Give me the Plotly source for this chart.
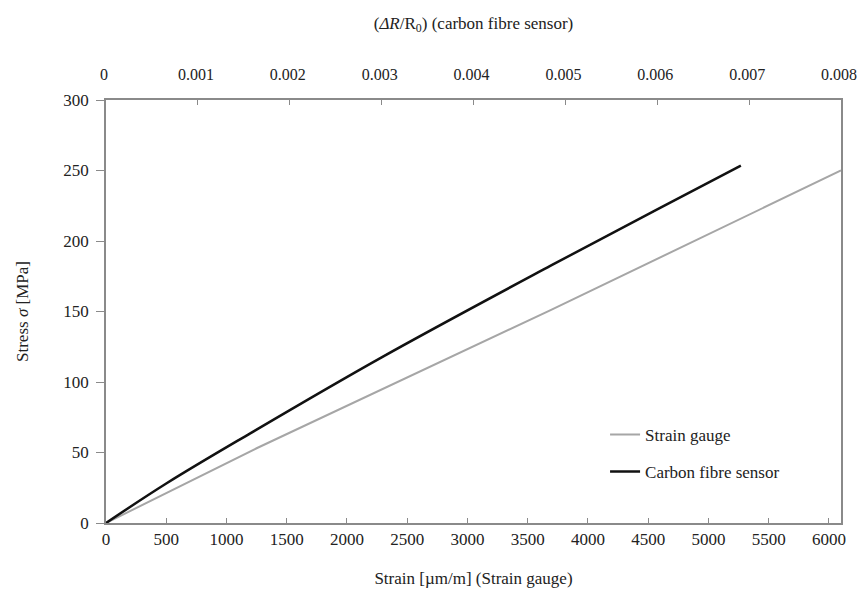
import plotly.graph_objects as go

# Strain gauge: strain [µm/m] vs stress [MPa]
sg_strain = [0, 1250, 3690, 6100]
sg_stress = [0, 53, 151, 250]

# Carbon fibre sensor: ΔR/R0 vs stress [MPa]
cf_dr = [0, 0.00066, 0.00157, 0.00300, 0.00484, 0.00600, 0.00691]
cf_stress = [0, 28.2, 63.6, 117.5, 182.5, 222.5, 253.4]

bottom_ticks = [0, 500, 1000, 1500, 2000, 2500, 3000, 3500, 4000, 4500, 5000, 5500, 6000]
top_ticks = [0, 0.001, 0.002, 0.003, 0.004, 0.005, 0.006, 0.007, 0.008]
top_labels = ["0", "0.001", "0.002", "0.003", "0.004", "0.005", "0.006", "0.007", "0.008"]
y_ticks = [0, 50, 100, 150, 200, 250, 300]

FONT = "Liberation Serif"
AX = "#8a8a8a"
FS = 17

fig = go.Figure()
fig.add_trace(go.Scatter(x=sg_strain, y=sg_stress, mode="lines", name="Strain gauge",
                         line=dict(color="#a6a6a6", width=2), legendgroup="a",
                         xaxis="x", yaxis="y"))
fig.add_trace(go.Scatter(x=cf_dr, y=cf_stress, mode="lines", name="Carbon fibre sensor",
                         line=dict(color="#111111", width=2.5, shape="spline"), legendgroup="b",
                         xaxis="x2", yaxis="y"))

# the page body adds an 8px margin, so the figure is sized to fit the window
fig.update_layout(
    width=857, height=580,
    margin=dict(l=98, r=24, t=92, b=65),
    paper_bgcolor="white", plot_bgcolor="white",
    font=dict(family=FONT, size=FS, color="#222"),
    showlegend=True,
    legend=dict(x=0.679, y=0.251, xanchor="left", yanchor="top",
                bgcolor="rgba(0,0,0,0)", itemwidth=30, tracegroupgap=12,
                traceorder="grouped", font=dict(family=FONT, size=FS, color="#222")),
    xaxis=dict(range=[0, 6100], tickvals=bottom_ticks, ticks="inside", ticklen=5,
               tickcolor=AX, showline=True, linecolor=AX, linewidth=1.5,
               showgrid=False, zeroline=False, ticklabelstandoff=0, automargin=False,
               title=dict(text="Strain [µm/m] (Strain gauge)", standoff=28,
                          font=dict(family=FONT, size=FS))),
    xaxis2=dict(range=[0, 0.008], tickvals=top_ticks, ticktext=top_labels,
                overlaying="x", side="top", anchor="y", ticks="inside", ticklen=5,
                tickcolor=AX, showline=True, linecolor=AX, linewidth=1.5,
                showgrid=False, zeroline=False, ticklabelstandoff=12, automargin=False,
                ticklabeloverflow="allow", ticklabelshift=-2,
                tickfont=dict(family=FONT, size=16),
                title=dict(text="(<i>ΔR</i>/R<sub>0</sub>) (carbon fibre sensor)", standoff=32,
                           font=dict(family=FONT, size=FS))),
    yaxis=dict(range=[0, 300], tickvals=y_ticks, ticks="outside", ticklen=8,
               tickcolor=AX, showline=True, linecolor=AX, linewidth=1.5, mirror=True,
               showgrid=False, zeroline=False, ticklabelstandoff=4, automargin=False,
               title=dict(text="Stress <i>σ</i> [MPa]", standoff=30,
                          font=dict(family=FONT, size=FS))),
)

fig.write_html("out.html")
